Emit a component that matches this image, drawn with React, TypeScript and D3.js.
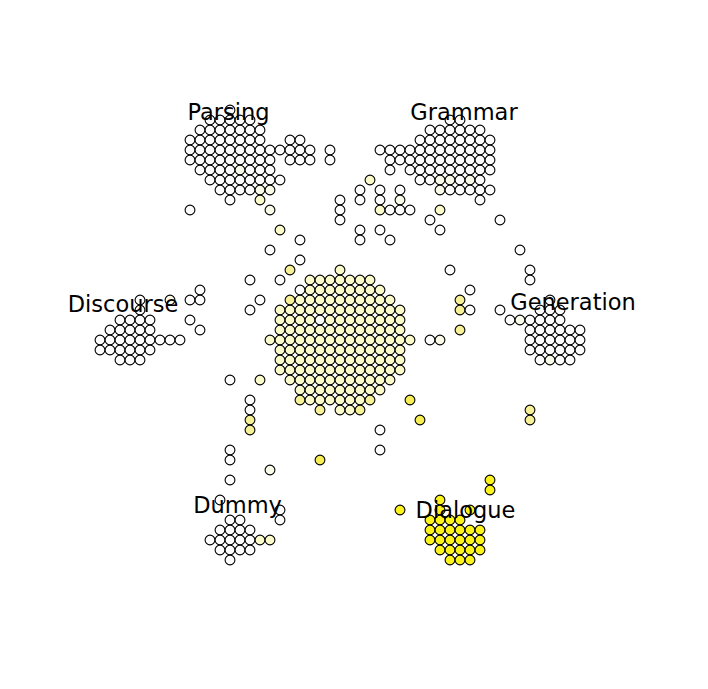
import React from 'react';
import * as d3 from 'd3';

// Each run: [row, firstCol, lastCol]; grid cell = 10px
type Run = [number, number, number];
type Tint = [number, number, number]; // [row, col, level]

const parsingRuns: Run[] = [
  [11, 23, 23], [12, 21, 25], [13, 20, 26], [14, 19, 26], [14, 29, 30],
  [15, 19, 31], [15, 33, 33], [16, 19, 27], [16, 29, 31], [16, 33, 33],
  [17, 20, 27], [18, 21, 28], [19, 22, 27], [20, 23, 23], [20, 26, 26],
  [21, 19, 19], [21, 27, 27],
];
const parsingTints: Tint[] = [[17, 24, 1], [19, 26, 1], [19, 27, 1], [20, 26, 2], [21, 27, 1]];

const grammarRuns: Run[] = [
  [12, 45, 46], [13, 43, 48], [14, 42, 49], [15, 38, 49], [16, 39, 49],
  [17, 39, 39], [17, 41, 49], [18, 37, 37], [18, 42, 48], [19, 36, 36],
  [19, 38, 38], [19, 40, 40], [19, 44, 49], [20, 34, 34], [20, 36, 36],
  [20, 38, 38], [20, 40, 40], [20, 48, 48], [21, 34, 34], [21, 38, 41],
  [21, 44, 44], [22, 34, 34], [22, 43, 43], [22, 50, 50], [23, 36, 36],
  [23, 38, 38], [23, 44, 44], [24, 36, 36], [24, 39, 39],
];
const grammarTints: Tint[] = [
  [18, 37, 2], [18, 44, 1], [18, 45, 1], [18, 47, 1], [19, 44, 1],
  [20, 40, 1], [21, 38, 2], [21, 44, 2],
];

const coreRuns: Run[] = [
  [28, 31, 37], [29, 31, 38], [30, 30, 39], [31, 28, 40], [32, 28, 40],
  [33, 28, 40], [34, 27, 41], [35, 28, 40], [36, 28, 40], [37, 28, 40],
  [38, 29, 39], [39, 30, 38], [40, 30, 37], [41, 32, 32], [41, 34, 36],
];
const coreTints: Tint[] = [[32, 32, 0], [40, 30, 3], [40, 37, 3], [41, 32, 3], [41, 36, 3]];

const discourseRuns: Run[] = [
  [30, 14, 14], [30, 17, 17], [31, 14, 14], [32, 12, 15], [33, 11, 15],
  [34, 10, 18], [35, 10, 15], [36, 12, 14],
];
const discourseTints: Tint[] = [[30, 17, 1]];

const generationRuns: Run[] = [
  [30, 55, 55], [31, 54, 56], [32, 51, 56], [33, 53, 58], [34, 53, 58],
  [35, 53, 58], [36, 54, 57],
];
const generationTints: Tint[] = [[32, 52, 1], [36, 55, 1]];

const dummyRuns: Run[] = [
  [50, 22, 22], [51, 28, 28], [52, 23, 24], [52, 28, 28], [53, 22, 25],
  [54, 21, 27], [55, 22, 25], [56, 23, 23],
];
const dummyTints: Tint[] = [[54, 26, 2], [54, 27, 2]];

const dialogueRuns: Run[] = [
  [48, 49, 49], [49, 49, 49], [50, 44, 44], [51, 40, 40], [51, 44, 44],
  [51, 47, 47], [52, 43, 46], [53, 43, 48], [54, 43, 48], [55, 44, 48],
  [56, 45, 47],
];

// loose single nodes between the clusters: [row, col, level]
const strayNodes: Tint[] = [
  [23, 28, 2], [24, 30, 0], [25, 27, 0], [25, 52, 0], [26, 30, 0],
  [27, 29, 3], [27, 34, 2], [27, 45, 0], [27, 53, 0], [28, 25, 0],
  [28, 28, 0], [28, 53, 0], [29, 20, 0], [29, 30, 0], [29, 47, 0],
  [30, 19, 0], [30, 20, 0], [30, 26, 0], [30, 29, 3], [30, 46, 3],
  [31, 25, 0], [31, 46, 3], [31, 47, 0], [31, 50, 0], [32, 19, 0],
  [33, 20, 0], [33, 46, 3], [34, 43, 0], [34, 44, 1], [38, 23, 0],
  [38, 26, 2], [40, 25, 0], [40, 41, 4], [41, 25, 0], [41, 53, 3],
  [42, 25, 3], [42, 42, 4], [42, 53, 3], [43, 25, 3], [43, 38, 0],
  [45, 23, 0], [45, 38, 0], [46, 23, 0], [46, 32, 4], [47, 27, 1],
  [48, 23, 0],
];

const labelNames = ['Parsing', 'Grammar', 'Discourse', 'Generation', 'Dummy', 'Dialogue'];
// label anchor in grid units: [col, row of baseline]
const labelAnchors: [number, number][] = [
  [22.85, 12.0], [46.4, 12.0], [12.3, 31.2], [57.3, 31.0], [23.75, 51.3], [46.55, 51.8],
];

const levelColors = ['#fcfcfc', '#fafae8', '#fafacb', '#f6f096', '#f6ee52', '#fcf31c'];

interface Node { row: number; col: number; level: number }

function expand(runs: Run[], base: number, tints: Tint[] = []): Node[] {
  const tintMap = new Map(tints.map(([r, c, l]) => [`${r}-${c}`, l]));
  const out: Node[] = [];
  runs.forEach(([row, c0, c1]) => {
    for (let col = c0; col <= c1; col++) {
      const key = `${row}-${col}`;
      out.push({ row, col, level: tintMap.has(key) ? (tintMap.get(key) as number) : base });
    }
  });
  return out;
}

const W = 708;
const H = 689;

export default function App() {
  const x = d3.scaleLinear().domain([0, W / 10]).range([0, W]);
  const y = d3.scaleLinear().domain([0, H / 10]).range([0, H]);

  const nodes: Node[] = [
    ...expand(parsingRuns, 0, parsingTints),
    ...expand(grammarRuns, 0, grammarTints),
    ...expand(coreRuns, 2, coreTints),
    ...expand(discourseRuns, 0, discourseTints),
    ...expand(generationRuns, 0, generationTints),
    ...expand(dummyRuns, 0, dummyTints),
    ...expand(dialogueRuns, 5),
    ...strayNodes.map(([row, col, level]) => ({ row, col, level })),
  ];

  return (
    <svg
      width={W}
      height={H}
      viewBox={`0 0 ${W} ${H}`}
      style={{ position: 'absolute', left: 0, top: 0, background: '#ffffff' }}
    >
      <g>
        {nodes.map((d, i) => (
          <circle
            key={i}
            cx={x(d.col)}
            cy={y(d.row)}
            r={4.9}
            fill={levelColors[d.level]}
            stroke="#000000"
            strokeWidth={1.1}
          />
        ))}
      </g>
      <g fontFamily="'DejaVu Sans', sans-serif" fontSize={22.5} fill="#000000" textAnchor="middle">
        {labelNames.map((name, i) => (
          <text key={name} x={x(labelAnchors[i][0])} y={y(labelAnchors[i][1])}>
            {name}
          </text>
        ))}
      </g>
    </svg>
  );
}
